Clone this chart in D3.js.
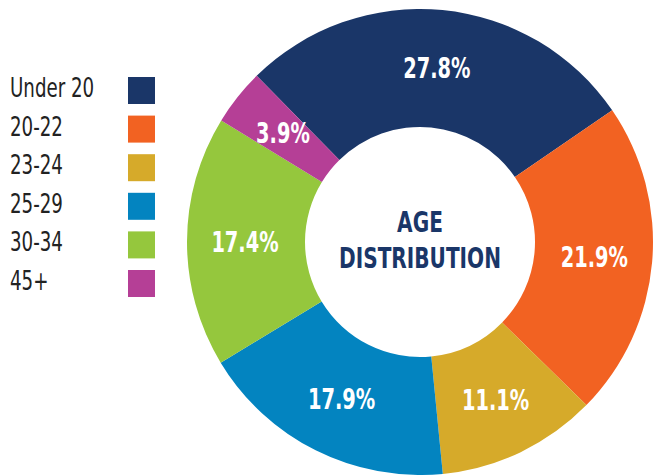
<!DOCTYPE html>
<html>
<head>
<meta charset="utf-8">
<script src="https://cdn.jsdelivr.net/npm/d3@7"></script>
<style>
  html, body { margin: 0; padding: 0; background: #fff; }
  svg { display: block; }
  text { font-family: "DejaVu Sans Condensed", "Liberation Sans Narrow", sans-serif; }
</style>
</head>
<body>
<div id="chart"></div>
<script>
// age groups and their share (%)
var categories = ["Under 20", "20-22", "23-24", "25-29", "30-34", "45+"];
var shares = [27.8, 21.9, 11.1, 17.9, 17.4, 3.9];
var colors = ["#1a3668", "#f26222", "#d6aa2a", "#0384c0", "#95c73d", "#b53f96"];
var titleLines = ["AGE", "DISTRIBUTION"];

var width = 654, height = 475;
var cx = 420, cy = 242, outerR = 233, innerR = 115, labelR = 175;
var startAngle = -44.5 * Math.PI / 180;
var squeeze = 0.77; // the original face is a tight condensed sans

var svg = d3.select('#chart').append('svg')
  .attr('width', width)
  .attr('height', height);

var data = categories.map(function (c, i) {
  return { name: c, value: shares[i], color: colors[i] };
});

var pie = d3.pie()
  .sort(null)
  .value(function (d) { return d.value; })
  .startAngle(startAngle)
  .endAngle(startAngle + 2 * Math.PI);

var arc = d3.arc().innerRadius(innerR).outerRadius(outerR);
var labelArc = d3.arc().innerRadius(labelR).outerRadius(labelR);

var g = svg.append('g').attr('transform', 'translate(' + cx + ',' + cy + ')');

var arcs = pie(data);

g.selectAll('path.slice')
  .data(arcs)
  .enter().append('path')
  .attr('class', 'slice')
  .attr('d', arc)
  .attr('fill', function (d) { return d.data.color; });

g.selectAll('text.pct')
  .data(arcs)
  .enter().append('text')
  .attr('class', 'pct')
  .attr('transform', function (d) {
    return 'translate(' + labelArc.centroid(d) + ') scale(' + squeeze + ',1)';
  })
  .attr('text-anchor', 'middle')
  .attr('dy', '0.36em')
  .attr('fill', '#fff')
  .attr('font-weight', 'bold')
  .attr('font-size', 28)
  .text(function (d) { return d.data.value.toFixed(1) + '%'; });

// centre title
g.selectAll('text.title')
  .data(titleLines)
  .enter().append('text')
  .attr('class', 'title')
  .attr('text-anchor', 'middle')
  .attr('transform', function (d, i) { return 'translate(0,' + (-10 + i * 36) + ') scale(' + squeeze + ',1)'; })
  .attr('fill', '#1a3668')
  .attr('font-weight', 'bold')
  .attr('font-size', 29)
  .text(function (d) { return d; });

// legend
var rowH = 38.6;
var legend = svg.append('g').attr('transform', 'translate(10,77)');
var rows = legend.selectAll('g.row')
  .data(data)
  .enter().append('g')
  .attr('class', 'row')
  .attr('transform', function (d, i) { return 'translate(0,' + (i * rowH) + ')'; });

rows.append('text')
  .attr('transform', 'translate(0,20) scale(0.75,1)')
  .attr('fill', '#222')
  .attr('font-size', 27)
  .text(function (d) { return d.name; });

rows.append('rect')
  .attr('x', 118)
  .attr('y', 0)
  .attr('width', 27)
  .attr('height', 27)
  .attr('fill', function (d) { return d.color; });
</script>
</body>
</html>
